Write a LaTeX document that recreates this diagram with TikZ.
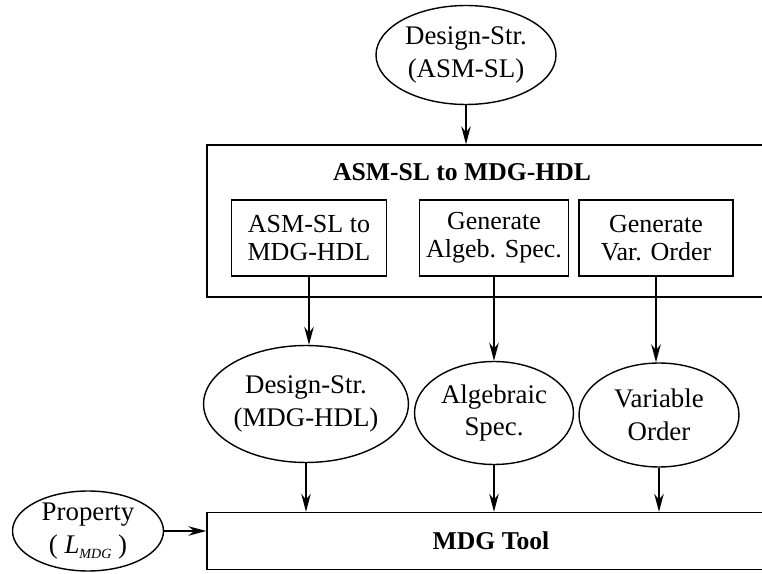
\documentclass[tikz,border=0pt]{standalone}
\usepackage{fontspec}
\setmainfont{Liberation Serif}
\usetikzlibrary{shapes,arrows.meta,positioning}
\tikzstyle{oval}=[draw,ellipse,line width=.8pt,inner sep=0pt,align=center,
  font=\fontsize{15.3}{18.5}\selectfont]
\tikzstyle{task}=[draw,rectangle,line width=.8pt,inner sep=0pt,align=center,
  minimum height=1.52cm,font=\fontsize{14.8}{15.8}\selectfont]
\tikzstyle{frame}=[draw,rectangle,line width=.8pt,inner sep=0pt]
\tikzstyle{flow}=[->,line width=1.1pt]

\begin{document}
\begin{tikzpicture}[x=.02cm,y=-.02cm,>={Stealth[length=3.6mm,width=1.9mm]}]
  \useasboundingbox (0,0) rectangle (762,574);
  \clip (0,0) rectangle (762,574);

  \node[oval,minimum width=3.6cm,minimum height=1.98cm] (src) at (466,55)
  {Design-Str.\\(ASM-SL)};

  \node[frame,minimum width=11.36cm,minimum height=3.04cm] (conv) at (491,221) {};
  \node[font=\bfseries\fontsize{14.6}{16}\selectfont] (title) at (462,172)
  {ASM-SL to MDG-HDL};

  \node[task,minimum width=3.1cm] (t1) at (309,238) {ASM-SL to\\MDG-HDL};
  \node[task,minimum width=2.98cm] (t2) at (494,238) {Generate\\Algeb. Spec.};
  \node[task,minimum width=3.08cm] (t3) at (656,238) {Generate\\Var. Order};

  \node[oval,minimum width=4.04cm,minimum height=2.34cm] (o1) at (306,404)
  {Design-Str.\\(MDG-HDL)};
  \node[oval,minimum width=3.18cm,minimum height=2.06cm] (o2) at (494,413)
  {Algebraic\\Spec.};
  \node[oval,minimum width=3.2cm,minimum height=2.08cm] (o3) at (659,415)
  {Variable\\Order};

  \node[frame,minimum width=11.36cm,minimum height=1.14cm,
  font=\bfseries\fontsize{14.6}{16}\selectfont] (mdg) at (491,541) {MDG Tool};
  \node[oval,minimum width=3.02cm,minimum height=1.6cm] (prop) at (88,531)
  {Property\\( \textit{L}\raisebox{-.4ex}{\footnotesize\textit{MDG}} )};

  \draw[flow] (src.south) -- (src.south |- conv.north);
  \draw[flow] (t1) -- (t1 |- o1.north);
  \draw[flow] (t2) -- (o2);
  \draw[flow] (t3) -- (t3 |- o3.north);
  \draw[flow] (o1) -- (o1 |- mdg.north);
  \draw[flow] (o2) -- (o2 |- mdg.north);
  \draw[flow] (o3) -- (o3 |- mdg.north);
  \draw[flow] (prop) -- (prop -| mdg.west);
\end{tikzpicture}
\end{document}
